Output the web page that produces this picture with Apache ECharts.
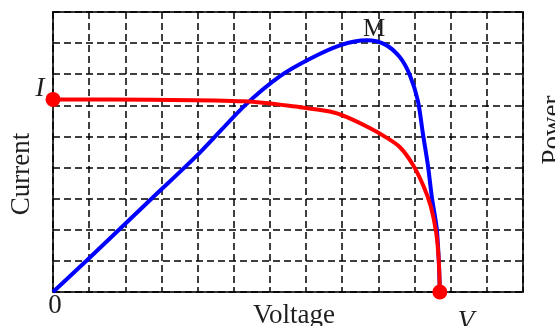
<!DOCTYPE html>
<html>
<head>
<meta charset="utf-8">
<script src="https://cdn.jsdelivr.net/npm/echarts@6/dist/echarts.min.js"></script>
<style>
  html, body { margin: 0; padding: 0; background: #fff; }
  #chart { width: 555px; height: 326px; }
</style>
</head>
<body>
<div id="chart"></div>
<script>
// Solar cell characteristic: I-V curve (red) and P-V curve (blue), grid units
const voltageIV = [0, 2.69, 5.31, 6.83, 7.66, 8.13, 8.76, 9.2, 9.59, 9.95, 10.25, 10.45, 10.60, 10.67, 10.70];
const currentIV = [6.19, 6.18, 6.13, 5.94, 5.80, 5.62, 5.27, 4.98, 4.66, 4.10, 3.40, 2.75, 1.90, 1.02, 0];

const voltagePV = [0, 0.94, 2.68, 4.07, 5.31, 6.28, 7.11, 7.94, 8.68, 9.18, 9.59, 9.87, 10.09, 10.23, 10.37, 10.48, 10.61, 10.67, 10.70];
const powerPV   = [0, 1.02, 2.95, 4.49, 6.0, 6.94, 7.50, 7.93, 8.09, 7.96, 7.55, 6.97, 6.16, 5.10, 4.07, 3.04, 2.08, 1.02, 0];

const xMax = 13;   // grid columns
const yMax = 9;    // grid rows

const zip = (xs, ys) => xs.map((x, i) => [x, ys[i]]);
const ivPoints = zip(voltageIV, currentIV);
const pvPoints = zip(voltagePV, powerPV);
const ivEnds = [ivPoints[0], ivPoints[ivPoints.length - 1]];

const serif = '"Liberation Serif", "DejaVu Serif", serif';
const textColor = '#1e1e1e';
const gridDash = { color: '#000', width: 1.5, type: [7, 4] };

const chart = echarts.init(document.getElementById('chart'), null, { renderer: 'canvas' });
chart.setOption({
  animation: false,
  backgroundColor: '#fff',
  grid: {
    left: 53, top: 12, right: 32, bottom: 34,
    show: true, borderColor: '#333', borderWidth: 2, backgroundColor: 'transparent'
  },
  xAxis: {
    type: 'value', min: 0, max: xMax, interval: 1,
    axisLine: { show: false }, axisTick: { show: false }, axisLabel: { show: false },
    splitLine: { show: true, lineStyle: gridDash }
  },
  yAxis: {
    type: 'value', min: 0, max: yMax, interval: 1,
    axisLine: { show: false }, axisTick: { show: false }, axisLabel: { show: false },
    splitLine: { show: true, lineStyle: gridDash }
  },
  series: [
    {
      name: 'Power', type: 'line', data: pvPoints, smooth: 0.3,
      showSymbol: false, lineStyle: { color: '#0000ff', width: 4 }, z: 3
    },
    {
      name: 'Current', type: 'line', data: ivPoints, smooth: 0.3,
      showSymbol: false, lineStyle: { color: '#ff0000', width: 4 }, z: 4
    },
    {
      name: 'Ends', type: 'scatter', data: ivEnds, symbolSize: 15,
      itemStyle: { color: '#ff0000', opacity: 1 }, z: 5
    }
  ],
  graphic: [
    { type: 'text', x: 22, y: 174, rotation: Math.PI / 2,
      style: { text: 'Current', font: '27px ' + serif, fill: textColor, align: 'center', verticalAlign: 'middle' } },
    { type: 'text', x: 553, y: 130, rotation: Math.PI / 2,
      style: { text: 'Power', font: '27px ' + serif, fill: textColor, align: 'center', verticalAlign: 'middle' } },
    { type: 'text', x: 294, y: 316,
      style: { text: 'Voltage', font: '27px ' + serif, fill: textColor, align: 'center', verticalAlign: 'middle' } },
    { type: 'text', x: 55, y: 306,
      style: { text: '0', font: '27px ' + serif, fill: textColor, align: 'center', verticalAlign: 'middle' } },
    { type: 'text', x: 40, y: 89,
      style: { text: 'I', font: 'italic 27px ' + serif, fill: textColor, align: 'center', verticalAlign: 'middle' } },
    { type: 'text', x: 466, y: 322,
      style: { text: 'V', font: 'italic 27px ' + serif, fill: textColor, align: 'center', verticalAlign: 'middle' } },
    { type: 'text', x: 374, y: 29,
      style: { text: 'M', font: '25px ' + serif, fill: textColor, align: 'center', verticalAlign: 'middle' } }
  ]
});
</script>
</body>
</html>
